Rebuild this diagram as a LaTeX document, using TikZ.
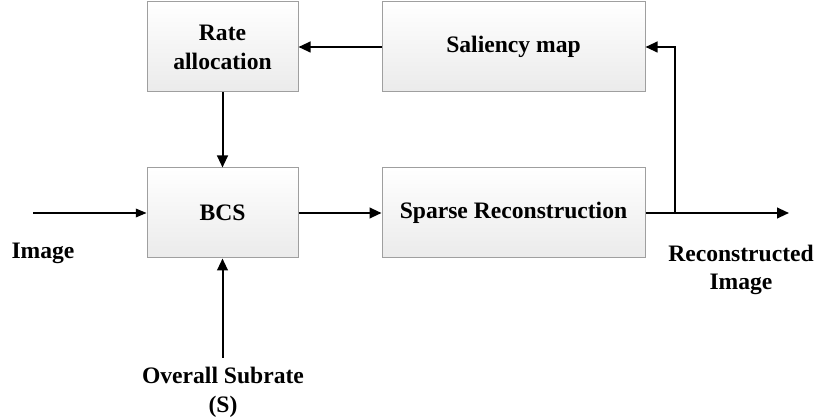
\documentclass[tikz,border=0pt]{standalone}
\usepackage{fontspec}
\setmainfont{Liberation Serif}
\usetikzlibrary{arrows.meta}
\begin{document}
\begin{tikzpicture}[x=0.75pt,y=-0.75pt,
  every node/.style={font=\fontsize{17.7}{21.6}\selectfont\bfseries, align=center, inner sep=0pt},
  blk/.style={draw=gray!75, line width=0.75pt, top color=white, bottom color=gray!16,
    minimum height=67.5pt},
  narrowblk/.style={blk, minimum width=113.25pt},
  wideblk/.style={blk, minimum width=197.25pt},
  arr/.style={line width=1.5pt, -{Triangle[length=9pt,width=8pt]}},
  thinarr/.style={line width=1pt, -{Triangle[length=8pt,width=6.5pt]}}]
\useasboundingbox (0,0) rectangle (818,420);
\node[narrowblk] (rate) at (222.5,47) {Rate\\allocation};
\node[wideblk] (sal) at (513.5,47) {Saliency map};
\node[narrowblk] (bcs) at (222.5,213) {BCS};
\node[wideblk] (sparse) at (513.5,213) {Sparse Reconstruction};
\coordinate (img) at (33,213);
\coordinate (out) at (789,213);
\coordinate (br) at (675,213);
\coordinate (sub) at (222.5,358);
\draw[arr] (sal) -- (rate);
\draw[arr] (rate) -- (bcs);
\draw[arr] (bcs) -- (sparse);
\draw[thinarr] (img) -- (bcs);
\draw[arr] (sparse.east) -- (out);
\draw[arr] (br) |- (sal.east);
\draw[arr] (sub) -- (bcs);
\node (imgl) at (43,253) {Image};
\node (recl) at (741,270) {Reconstructed\\Image};
\node (subl) at (223,392) {Overall Subrate\\(S)};
\end{tikzpicture}
\end{document}
